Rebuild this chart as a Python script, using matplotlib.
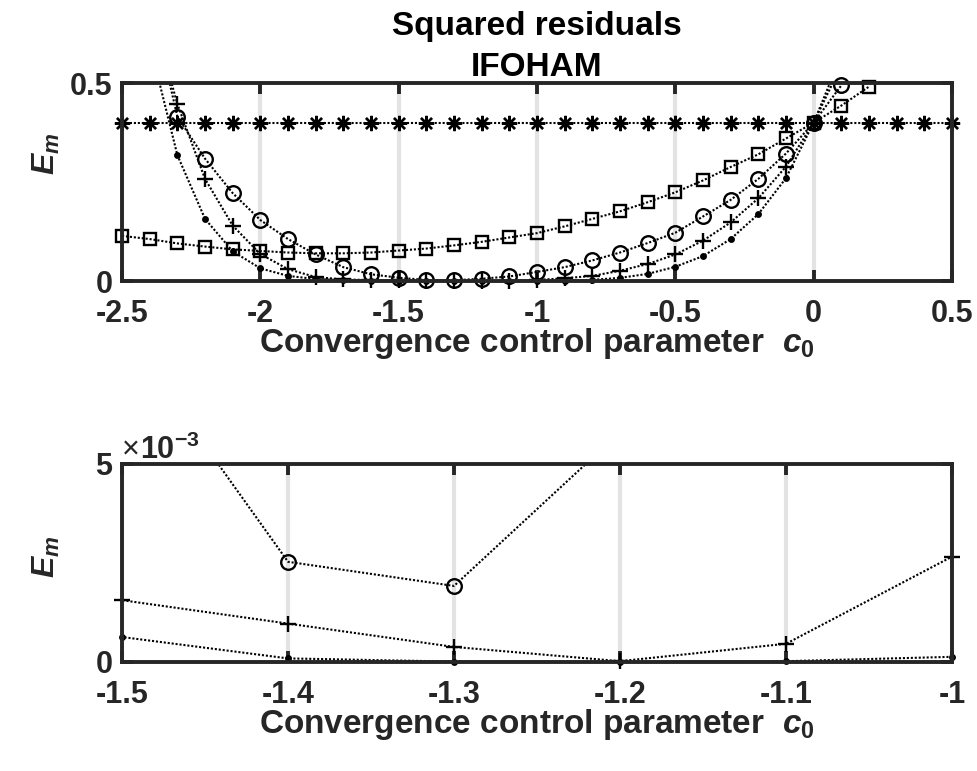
import matplotlib
matplotlib.use('Agg')
import matplotlib.pyplot as plt
import numpy as np

plt.rcParams['font.family'] = ['Liberation Sans', 'DejaVu Sans']
plt.rcParams['font.weight'] = 'bold'
plt.rcParams['axes.unicode_minus'] = False
plt.rcParams['mathtext.fontset'] = 'custom'
plt.rcParams['mathtext.it'] = 'Liberation Sans:italic:bold'
plt.rcParams['mathtext.rm'] = 'Liberation Sans:bold'
plt.rcParams['mathtext.bf'] = 'Liberation Sans:bold'

nan = float('nan')

# Convergence control parameter values
c0 = [-2.5, -2.4, -2.3, -2.2, -2.1, -2.0, -1.9, -1.8, -1.7, -1.6, -1.5,
      -1.4, -1.3, -1.2, -1.1, -1.0, -0.9, -0.8, -0.7, -0.6, -0.5,
      -0.4, -0.3, -0.2, -0.1, 0.0, 0.1, 0.2, 0.3, 0.4, 0.5]

# Squared residuals for the different orders
E_star = [0.4, 0.4, 0.4, 0.4, 0.4, 0.4, 0.4, 0.4, 0.4, 0.4, 0.4,
          0.4, 0.4, 0.4, 0.4, 0.4, 0.4, 0.4, 0.4, 0.4, 0.4,
          0.4, 0.4, 0.4, 0.4, 0.4, 0.4, 0.4, 0.4, 0.4, 0.4]
E_square = [0.114, 0.106, 0.095, 0.087, 0.080, 0.076, 0.072, 0.070, 0.070, 0.072, 0.077,
            0.082, 0.090, 0.099, 0.110, 0.121, 0.138, 0.157, 0.176, 0.199, 0.224,
            0.254, 0.288, 0.320, 0.360, 0.400, 0.443, 0.491, nan, nan, nan]
E_circle = [nan, 0.72, 0.415, 0.309, 0.222, 0.154, 0.106, 0.067, 0.035, 0.017, 0.0084,
            0.00253, 0.00192, 0.0058, 0.0115, 0.023, 0.035, 0.052, 0.072, 0.096, 0.122,
            0.163, 0.205, 0.258, 0.322, 0.400, 0.494, nan, nan, nan, nan]
E_plus = [nan, 0.70, 0.447, 0.258, 0.140, 0.068, 0.030, 0.010, 0.004, 0.0025, 0.00156,
          0.00097, 0.00038, 0.00002, 0.00046, 0.00266, 0.007, 0.013, 0.026, 0.043, 0.067,
          0.102, 0.148, 0.209, 0.289, 0.400, 0.545, nan, nan, nan, nan]
E_dot = [nan, 0.60, 0.318, 0.157, 0.075, 0.032, 0.013, 0.005, 0.002, 0.0012, 0.00063,
         0.00009, 0.00001, 0.0, 0.00002, 0.00013, 0.0012, 0.003, 0.008, 0.018, 0.036,
         0.063, 0.106, 0.169, 0.260, 0.400, 0.57, nan, nan, nan, nan]

top_xticks = [-2.5, -2, -1.5, -1, -0.5, 0, 0.5]
top_xticklabels = ['-2.5', '-2', '-1.5', '-1', '-0.5', '0', '0.5']
top_yticks = [0, 0.5]
top_yticklabels = ['0', '0.5']
bot_xticks = [-1.5, -1.4, -1.3, -1.2, -1.1, -1.0]
bot_xticklabels = ['-1.5', '-1.4', '-1.3', '-1.2', '-1.1', '-1']
bot_yticks = [0, 0.005]
bot_yticklabels = ['0', '5']

series = [
    (E_star, (8, 2, 0), 11),
    (E_square, 's', 9),
    (E_circle, 'o', 10.5),
    (E_plus, '+', 11),
    (E_dot, '.', 6.5),
]

axcol = '#262626'

fig = plt.figure(figsize=(9.77, 7.71), dpi=100)
ax1 = fig.add_axes([0.1249, 0.6355, 0.8495, 0.2568])
ax2 = fig.add_axes([0.1249, 0.1414, 0.8495, 0.2568])


def draw(ax, xlim, ylim, xt, xtl, yt, ytl, ylab_y):
    x = np.array(c0, dtype=float)
    for vals, marker, ms in series:
        y = np.array(vals, dtype=float)
        ax.plot(x, y, color='k', ls=(0, (1, 0.9)), lw=1.5, zorder=3)
        inside = (x >= xlim[0] - 1e-9) & (x <= xlim[1] + 1e-9) & (y >= ylim[0]) & (y <= ylim[1])
        ax.plot(x[inside], y[inside], ls='none', marker=marker, ms=ms,
                mfc='none' if marker != '.' else 'k', mec='k', mew=1.7,
                clip_on=False, zorder=4)
    ax.set_xlim(xlim)
    ax.set_ylim(ylim)
    ax.set_xticks(xt)
    ax.set_xticklabels(xtl)
    ax.set_yticks(yt)
    ax.set_yticklabels(ytl)
    ax.grid(axis='x', color='#e3e3e3', lw=3)
    ax.set_axisbelow(True)
    for s in ax.spines.values():
        s.set_linewidth(2.8)
        s.set_color(axcol)
        s.set_zorder(5)
    ax.tick_params(direction='in', length=8, width=2.8, top=True, right=True,
                   colors=axcol, labelsize=22)
    ax.tick_params(axis='x', pad=13)
    ax.tick_params(axis='y', pad=7)
    for lab in ax.get_xticklabels() + ax.get_yticklabels():
        lab.set_fontweight('bold')
    ax.set_xlabel('Convergence control parameter  $c_{\\mathit{0}}$', fontsize=24,
                  fontweight='bold', color=axcol, labelpad=-2)
    ax.set_ylabel('$E_m$', fontsize=23, color=axcol)
    ax.yaxis.set_label_coords(-0.072, ylab_y)


draw(ax1, (-2.5, 0.5), (0, 0.5), top_xticks, top_xticklabels, top_yticks, top_yticklabels, 0.64)
draw(ax2, (-1.5, -1.0), (0, 0.005), bot_xticks, bot_xticklabels, bot_yticks, bot_yticklabels, 0.53)

ax1.set_title('Squared residuals\nIFOHAM', fontsize=24, fontweight='bold', pad=5,
              linespacing=1.4)
ax2.text(0.0, 0.99, '\u00d7', transform=ax2.transAxes, ha='left', va='bottom',
         fontsize=22, fontweight='normal', color=axcol)
ax2.text(0.022, 0.99, '10$^{-3}$', transform=ax2.transAxes, ha='left', va='bottom',
         fontsize=22, fontweight='bold', color=axcol)

fig.savefig('out.png', dpi=100)
